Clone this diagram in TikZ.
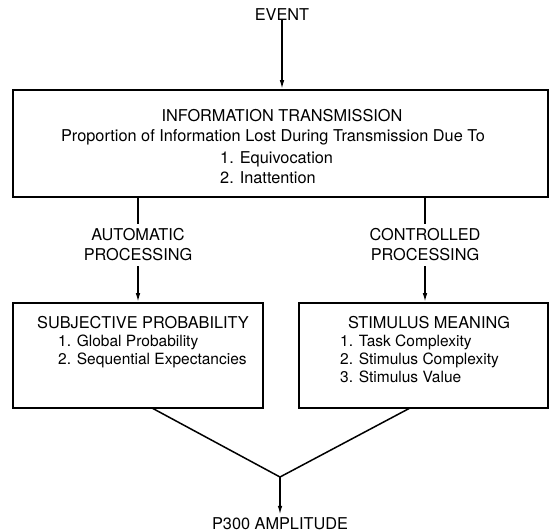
\documentclass[tikz,border=0pt]{standalone}
\usepackage{fontspec}
\setmainfont{TeX Gyre Heros}
\usetikzlibrary{arrows.meta,calc}
\begin{document}
\begin{tikzpicture}[x=1pt,y=-1pt,
  every node/.style={font=\fontsize{16.3}{19}\selectfont, inner sep=0pt},
  box/.style={draw, line width=1.6pt, minimum width=#1, inner sep=0pt},
  conn/.style={line width=1.5pt},
  arr/.style={line width=1.5pt, -{Latex[length=9pt,width=4.5pt]}},
  txt/.style={anchor=base},
  lst/.style={anchor=base west},
  slst/.style={anchor=base west, font=\fontsize{15.5}{18}\selectfont},
  lbl/.style={align=center, inner sep=5pt, font=\fontsize{16.3}{20}\selectfont}]
\useasboundingbox (0,0) rectangle (553,531);
% boxes
\node[box=535pt, minimum height=107pt] (top) at (280.5,143.5) {};
\node[box=250pt, minimum height=105pt] (lbox) at (138,355.5) {};
\node[box=249pt, minimum height=105pt] (rbox) at (423.5,355.5) {};
% texts
\node[txt] (event) at (282,20) {EVENT};
\node[txt] (ttitle) at (282,121) {INFORMATION TRANSMISSION};
\node[txt] (tprop) at (273,141) {Proportion of Information Lost During Transmission Due To};
\node[lst] (t1) at (220,163) {1. Equivocation};
\node[lst] (t2) at (220,183) {2. Inattention};
\node[txt] (ltitle) at (143,328) {SUBJECTIVE PROBABILITY};
\node[slst] (l1) at (58,346) {1. Global Probability};
\node[slst] (l2) at (58,364) {2. Sequential Expectancies};
\node[txt] (rtitle) at (429,328) {STIMULUS MEANING};
\node[slst] (r1) at (340,346) {1. Task Complexity};
\node[slst] (r2) at (340,364) {2. Stimulus Complexity};
\node[slst] (r3) at (340,382) {3. Stimulus Value};
\node[lbl] (auto) at (138,245) {AUTOMATIC\\PROCESSING};
\node[lbl] (ctrl) at (425,245) {CONTROLLED\\PROCESSING};
\node[txt, inner sep=2pt] (p300) at (280,529) {P300 AMPLITUDE};
% connectors
\coordinate (la) at (152,408);
\coordinate (ra) at (410,408);
\coordinate (j) at (280,477);
\draw[arr] (event.south) ++(0,-1) -- (event |- top.north);
\draw[conn] (auto |- top.south) -- (auto.north);
\draw[arr] (auto.south) -- (auto |- lbox.north);
\draw[conn] (ctrl |- top.south) -- (ctrl.north);
\draw[arr] (ctrl.south) -- (ctrl |- rbox.north);
\draw[conn, line join=miter] (la) -- (j) -- (ra);
\draw[arr] (j) -- (j |- p300.north);
\end{tikzpicture}
\end{document}
